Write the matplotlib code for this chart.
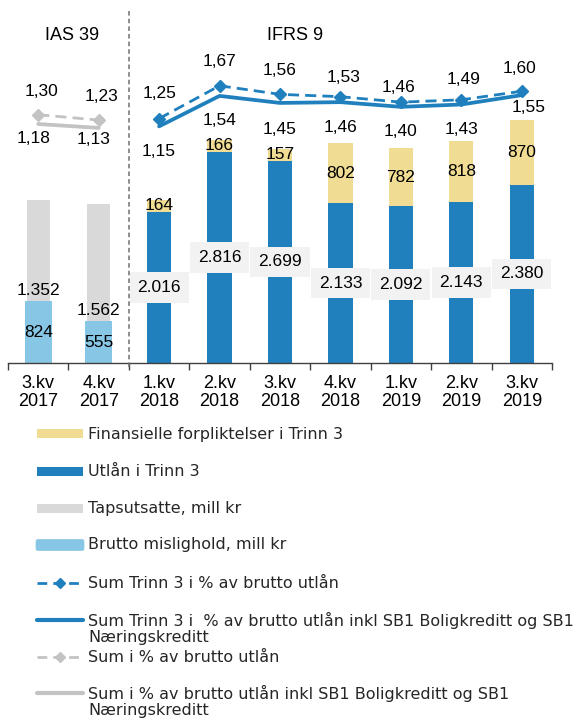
import matplotlib
matplotlib.use("Agg")
import matplotlib.pyplot as plt
from matplotlib.patches import Rectangle, FancyBboxPatch
from matplotlib.lines import Line2D
import numpy as np

# ---------------- data ----------------
categories = ["3.kv\n2017", "4.kv\n2017", "1.kv\n2018", "2.kv\n2018", "3.kv\n2018",
              "4.kv\n2018", "1.kv\n2019", "2.kv\n2019", "3.kv\n2019"]

brutto_mislighold = [824, 555]          # IAS 39 quarters
tapsutsatte = [1352, 1562]

utlan_trinn3 = [2016, 2816, 2699, 2133, 2092, 2143, 2380]   # IFRS 9 quarters
fin_forpl_trinn3 = [164, 166, 157, 802, 782, 818, 870]

sum_trinn3_pct = [1.25, 1.67, 1.56, 1.53, 1.46, 1.49, 1.60]
sum_trinn3_pct_inkl = [1.15, 1.54, 1.45, 1.46, 1.40, 1.43, 1.55]
sum_pct = [1.30, 1.23]
sum_pct_inkl = [1.18, 1.13]

legend_labels = [
    "Finansielle forpliktelser i Trinn 3",
    "Utlån i Trinn 3",
    "Tapsutsatte, mill kr",
    "Brutto mislighold, mill kr",
    "Sum Trinn 3 i % av brutto utlån",
    "Sum Trinn 3 i  % av brutto utlån inkl SB1 Boligkreditt og SB1\nNæringskreditt",
    "Sum i % av brutto utlån",
    "Sum i % av brutto utlån inkl SB1 Boligkreditt og SB1\nNæringskreditt",
]

# ---------------- style ----------------
C_YEL = "#F0DD93"
C_BLUE = "#1F80BD"
C_GRAY = "#D9D9D9"
C_LBLUE = "#88C6E6"
C_GLINE = "#C3C3C3"
C_BOX = "#F2F2F2"
VFONT = "Liberation Sans"
VSIZE = 12.5

W, H = 587, 719
fig = plt.figure(figsize=(W / 100, H / 100), dpi=100)

def fx(x):
    return x / W

def fy(y):
    return 1 - y / H

ax_top, ax_bot, ax_l, ax_r = 10, 363, 8, 552
ax = fig.add_axes([fx(ax_l), fy(ax_bot), (ax_r - ax_l) / W, (ax_bot - ax_top) / H])
ax.set_xlim(-0.5, 8.5)
ax.set_ylim(0, 4713)

x_ias = np.arange(len(brutto_mislighold))
x_ifrs = np.arange(len(utlan_trinn3)) + len(brutto_mislighold)

# IAS 39 bars
ax.bar(x_ias, brutto_mislighold, width=0.45, color=C_LBLUE, zorder=2)
ax.bar(x_ias, tapsutsatte, width=0.38, bottom=brutto_mislighold, color=C_GRAY, zorder=1)
# IFRS 9 bars
ax.bar(x_ifrs, utlan_trinn3, width=0.40, color=C_BLUE, zorder=2)
ax.bar(x_ifrs, fin_forpl_trinn3, width=0.40, bottom=utlan_trinn3, color=C_YEL, zorder=2)

def fmt_int(v):
    return f"{v:,}".replace(",", ".")

for x, v in zip(x_ias, brutto_mislighold):
    ax.text(x, v / 2, fmt_int(v), ha="center", va="center", fontsize=VSIZE,
            family=VFONT, zorder=5)
for x, b, v in zip(x_ias, brutto_mislighold, tapsutsatte):
    ax.annotate(fmt_int(v), (x, b), xytext=(0, 11), textcoords="offset pixels",
                ha="center", va="center", fontsize=VSIZE, family=VFONT, zorder=5)
for x, v in zip(x_ifrs, utlan_trinn3):
    ax.text(x, v / 2, fmt_int(v), ha="center", va="center", fontsize=VSIZE,
            family=VFONT, zorder=6,
            bbox=dict(boxstyle="square,pad=0.45", fc=C_BOX, ec="none"))
for x, b, v in zip(x_ifrs, utlan_trinn3, fin_forpl_trinn3):
    ax.text(x, b + v / 2, fmt_int(v), ha="center", va="center", fontsize=VSIZE,
            family=VFONT, zorder=5)

# axes styling
for s in ["top", "left", "right"]:
    ax.spines[s].set_visible(False)
ax.spines["bottom"].set_color("#404040")
ax.spines["bottom"].set_linewidth(1.0)
ax.set_yticks([])
ax.set_xticks(np.arange(-0.5, 9.0, 1.0))
ax.set_xticklabels([])
ax.tick_params(axis="x", which="major", length=5, width=1.0, color="#404040", direction="out")
ax.set_xticks(np.arange(len(categories)), minor=True)
ax.set_xticklabels(categories, minor=True, fontsize=13, family=VFONT)
ax.tick_params(axis="x", which="minor", length=0, pad=9)
for lbl in ax.get_xticklabels(minor=True):
    lbl.set_linespacing(1.05)

# separator
ax.axvline(1.5, ymin=-4 / 353, ymax=1.0, color="#707070", lw=1.1,
           linestyle=(0, (3, 2)), clip_on=False, zorder=7)

# secondary axis for percentages
ax2 = ax.twinx()
ax2.set_ylim(-1.88, 2.64)
ax2.set_yticks([])
for s in ax2.spines.values():
    s.set_visible(False)

ax2.plot(x_ifrs, sum_trinn3_pct_inkl, color=C_BLUE, lw=2.7, solid_capstyle="round", zorder=3)
ax2.plot(x_ifrs, sum_trinn3_pct, color=C_BLUE, lw=2.0, linestyle=(0, (4, 2.2)),
         marker="D", markersize=6.5, zorder=4)
ax2.plot(x_ias, sum_pct_inkl, color=C_GLINE, lw=2.7, solid_capstyle="round", zorder=3)
ax2.plot(x_ias, sum_pct, color=C_GLINE, lw=2.0, linestyle=(0, (4, 2.2)),
         marker="D", markersize=6.5, zorder=4)

def pct(v):
    return f"{v:.2f}".replace(".", ",")

up_offsets = [(0, 25), (0, 24), (0, 24), (3, 19), (-2, 15), (2, 20), (-2, 23)]
dn_offsets = [(0, -25), (0, -25), (0, -27), (0, -25), (0, -25), (0, -25), (7, -12)]
g_up = [(3, 23), (3, 24)]
g_dn = [(-5, -14), (-5, -12)]

for x, v, o in zip(x_ifrs, sum_trinn3_pct, up_offsets):
    ax2.annotate(pct(v), (x, v), xytext=o, textcoords="offset pixels", ha="center",
                 va="center", fontsize=VSIZE, family=VFONT)
for x, v, o in zip(x_ifrs, sum_trinn3_pct_inkl, dn_offsets):
    ax2.annotate(pct(v), (x, v), xytext=o, textcoords="offset pixels", ha="center",
                 va="center", fontsize=VSIZE, family=VFONT)
for x, v, o in zip(x_ias, sum_pct, g_up):
    ax2.annotate(pct(v), (x, v), xytext=o, textcoords="offset pixels", ha="center",
                 va="center", fontsize=VSIZE, family=VFONT)
for x, v, o in zip(x_ias, sum_pct_inkl, g_dn):
    ax2.annotate(pct(v), (x, v), xytext=o, textcoords="offset pixels", ha="center",
                 va="center", fontsize=VSIZE, family=VFONT)

# headers
fig.text(fx(72), fy(36), "IAS 39", ha="center", va="center", fontsize=13, family=VFONT)
fig.text(fx(295), fy(36), "IFRS 9", ha="center", va="center", fontsize=13, family=VFONT)

# ---------------- manual legend ----------------
LFONT = "DejaVu Sans"
LSIZE = 11.5
hx0, hx1, tx = 37, 83, 88
ys = [434, 471, 508, 545, 583, 620, 657, 693]

def rect(y, h, color, rounded=False):
    if rounded:
        p = FancyBboxPatch((fx(hx0 - 1), fy(y + h / 2)), (hx1 - hx0 + 2) / W, h / H,
                           boxstyle="round,pad=0,rounding_size=0.003",
                           transform=fig.transFigure, fc=color, ec=color, lw=0.5)
    else:
        p = Rectangle((fx(hx0), fy(y + h / 2)), (hx1 - hx0) / W, h / H,
                      transform=fig.transFigure, fc=color, ec="none")
    fig.add_artist(p)

def line(y, color, dashed):
    if dashed:
        l = Line2D([fx(hx0), fx(hx1)], [fy(y), fy(y)], transform=fig.transFigure,
                   color=color, lw=2.0, linestyle=(0, (3.5, 2.2)))
        m = Line2D([fx((hx0 + hx1) / 2)], [fy(y)], transform=fig.transFigure,
                   color=color, marker="D", markersize=5.5, linestyle="none")
        fig.add_artist(l)
        fig.add_artist(m)
    else:
        l = Line2D([fx(hx0), fx(hx1)], [fy(y), fy(y)], transform=fig.transFigure,
                   color=color, lw=3.0, solid_capstyle="round")
        fig.add_artist(l)

rect(ys[0], 9, C_YEL)
rect(ys[1], 9, C_BLUE)
rect(ys[2], 9, C_GRAY)
rect(ys[3], 11, C_LBLUE, rounded=True)
line(ys[4], C_BLUE, True)
line(ys[5], C_BLUE, False)
line(ys[6], C_GLINE, True)
line(ys[7], C_GLINE, False)

for y, lab in zip(ys, legend_labels):
    parts = lab.split("\n")
    for i, p in enumerate(parts):
        fig.text(fx(tx), fy(y + i * 17.5), p, ha="left", va="center",
                 fontsize=LSIZE, family=LFONT, color="#262626")

fig.savefig("out.png", dpi=100)
